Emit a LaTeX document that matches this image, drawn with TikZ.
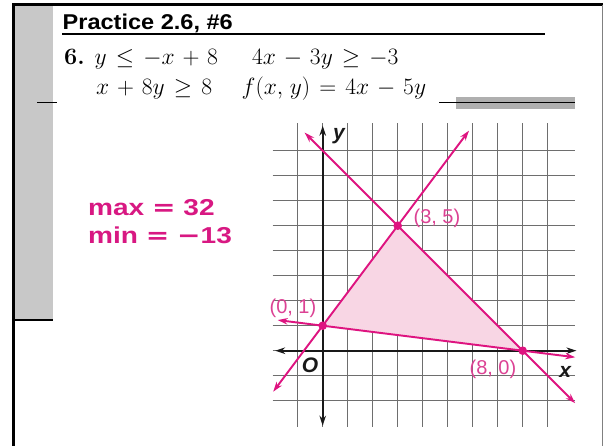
\RequirePackage{fix-cm}
\documentclass[tikz,border=0pt]{standalone}
\usepackage{fontspec}
\usetikzlibrary{arrows.meta}
\newfontfamily\hv{Liberation Sans}
\newfontfamily\dv{DejaVu Sans}
\newcommand\fsz[1]{\fontsize{#1}{#1}\selectfont}
\newcommand\widemath{\medmuskip=6mu\thickmuskip=7mu\thinmuskip=5mu}
\definecolor{mag}{RGB}{222,20,128}
\definecolor{maglab}{RGB}{220,66,148}
\definecolor{magtxt}{RGB}{216,24,130}
\definecolor{shadepink}{RGB}{248,214,228}
\definecolor{gridgray}{RGB}{110,110,110}
\definecolor{stripgray}{RGB}{200,200,200}
\definecolor{bargray}{RGB}{175,175,175}
\begin{document}
\begin{tikzpicture}[x=1pt,y=-1pt,
  gridline/.style={draw=gridgray, line width=0.8pt},
  axisline/.style={line width=2.1pt, draw=black!90, {Stealth[length=10pt,width=6.5pt]}-{Stealth[length=10pt,width=6.5pt]}},
  pinkline/.style={line width=1.9pt, draw=mag, {Stealth[length=10pt,width=6.5pt]}-{Stealth[length=10pt,width=6.5pt]}},
  ptlabel/.style={text=maglab, font=\hv\fsz{20}, inner sep=0pt},
  axlabel/.style={font=\hv\bfseries\itshape\fsz{21}, inner sep=0pt, text=black!90},
  eqtext/.style={font=\fsz{23.5}\widemath, inner sep=0pt, anchor=base west},
  maxmin/.style={font=\hv\bfseries\fsz{23}, text=magtxt, inner sep=0pt, anchor=base west},
  titletext/.style={font=\hv\bfseries\fsz{21.4}, inner sep=0pt, anchor=base west},
  frameline/.style={line width=2.5pt, black}
  ]
\useasboundingbox (0,0) rectangle (603,446);
\fill[white] (0,0) rectangle (603,446);
% frame
\fill[stripgray] (14.5,6) rectangle (53.3,320);
\draw[frameline] (12.2,4.7) -- (603,4.7);
\draw[frameline] (13.5,4) -- (13.5,446);
\draw[frameline] (13,320) -- (53.3,320);
\draw[gray, line width=1pt] (602.2,5) -- (602.2,446);
\draw[black, line width=1pt] (37,102.3) -- (57,102.3);
\fill[bargray] (456,96.7) rectangle (575,109);
\draw[black, line width=1.2pt] (439,102.3) -- (575,102.3);
% title and underline
\node[titletext] (title) at (62.5,29.3) {\scalebox{1.1}[1]{Practice 2.6, \#6}};
\draw[black, line width=1.3pt] (62,34) -- (545,34);
% inequalities
\node[eqtext] (num) at (64,65) {\bfseries 6.};
\node[eqtext] (e1) at (94.5,65) {$y \le -x + 8$};
\node[eqtext] (e2) at (252,65) {$4x - 3y \ge -3$};
\node[eqtext] (e3) at (96,95) {$x + 8y \ge 8$};
\node[eqtext] (e4) at (241.5,95) {$f(x, y) = 4x - 5y$};
% max / min
\node[maxmin] (mx) at (88,216) {\scalebox{1.22}[1]{max {\dv\bfseries =} 32}};
\node[maxmin] (mn) at (88,244) {\scalebox{1.22}[1]{min {\dv\bfseries =} {\dv\bfseries −}13}};
% graph
\begin{scope}[shift={(322.7,350.7)}, x=25pt, y=25pt]
  \foreach \i in {-1,...,9} \draw[gridline] (\i,-3.04) -- (\i,9.1);
  \foreach \j in {-2,...,8} \draw[gridline] (-2,\j) -- (10.1,\j);
  \coordinate (p01) at (0,1);
  \coordinate (p35) at (3,5);
  \coordinate (p80) at (8,0);
  \fill[shadepink] (p01) -- (p35) -- (p80) -- cycle;
  \coordinate (xl) at (-1.9,0);
  \coordinate (xr) at (10.15,0);
  \coordinate (yb) at (0,-3.0);
  \coordinate (yt) at (0,9.0);
  \draw[axisline] (xl) -- (xr);
  \draw[axisline] (yb) -- (yt);
  \coordinate (a1) at (-0.72,8.72);
  \coordinate (b1) at (10.1,-2.1);
  \coordinate (a2) at (-1.98,-1.64);
  \coordinate (b2) at (5.85,8.8);
  \coordinate (a3) at (-1.8,1.225);
  \coordinate (b3) at (10.1,-0.2625);
  \draw[pinkline] (a1) -- (b1);
  \draw[pinkline] (a2) -- (b2);
  \draw[pinkline] (a3) -- (b3);
  \fill[mag] (p01) circle[radius=4.3pt];
  \fill[mag] (p35) circle[radius=4.3pt];
  \fill[mag] (p80) circle[radius=4.3pt];
  \node[ptlabel] (l35) at (4.57,5.3) {(3, 5)};
  \node[ptlabel] (l01) at (-1.19,1.7) {(0, 1)};
  \node[ptlabel] (l80) at (6.81,-0.73) {(8, 0)};
  \node[axlabel] (ly) at (0.65,8.6) {y};
  \node[axlabel] (lx) at (9.7,-0.84) {x};
  \node[axlabel] (lo) at (-0.51,-0.6) {O};
\end{scope}
\end{tikzpicture}
\end{document}
